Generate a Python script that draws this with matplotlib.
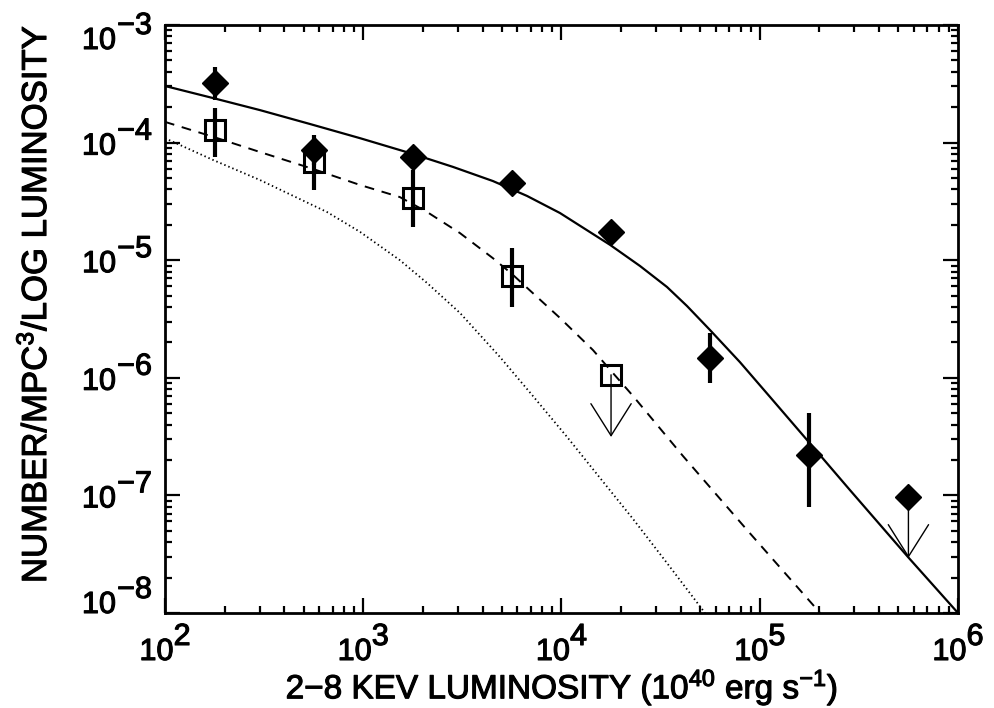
import math
import matplotlib
matplotlib.use("Agg")
import matplotlib.pyplot as plt
import matplotlib.patheffects as pe
from matplotlib.ticker import LogLocator, NullFormatter

plt.rcParams['font.family'] = ['Liberation Sans', 'DejaVu Sans']
plt.rcParams['mathtext.fontset'] = 'custom'
plt.rcParams['mathtext.rm'] = 'Liberation Sans'
plt.rcParams['mathtext.it'] = 'Liberation Sans'
plt.rcParams['mathtext.default'] = 'regular'

# luminosity bins (10^40 erg/s)
lum = [178, 562, 1778, 5623, 17783, 56234, 177828, 562341]

# filled diamonds: total
tot_n = [3.2e-4, 8.6e-5, 7.6e-5, 4.5e-5, 1.74e-5, 1.47e-6, 2.2e-7, 9.7e-8]
tot_hi = [4.4e-4, 1.16e-4, 8.0e-5, 4.7e-5, 1.8e-5, 2.4e-6, 5.0e-7, 9.7e-8]
tot_lo = [2.3e-4, 6.5e-5, 7.2e-5, 4.3e-5, 1.68e-5, 9.0e-7, 8.0e-8, 9.7e-8]
tot_limit = [False, False, False, False, False, False, False, True]
tot_limit_to = 2.94e-8

# open squares: subsample
sub_lum = [178, 562, 1778, 5623, 17783]
sub_n = [1.28e-4, 6.8e-5, 3.4e-5, 7.35e-6, 1.06e-6]
sub_hi = [1.97e-4, 8.6e-5, 5.85e-5, 1.27e-5, 1.06e-6]
sub_lo = [7.55e-5, 3.95e-5, 1.91e-5, 4.0e-6, 1.06e-6]
sub_limit = [False, False, False, False, True]
sub_limit_to = 3.14e-7

# model curves
solid_x = [100, 175, 301, 538, 964, 1783, 2838, 4510, 6699, 9820, 17580, 24890,
           34050, 42950, 56100, 79430, 112700, 175000, 285100, 559800, 1000000]
solid_y = [3.03e-4, 2.39e-4, 1.89e-4, 1.44e-4, 1.09e-4, 8.0e-5, 6.21e-5, 4.71e-5,
           3.52e-5, 2.52e-5, 1.35e-5, 8.93e-6, 5.92e-6, 4.08e-6, 2.55e-6, 1.36e-6,
           6.87e-7, 2.9e-7, 1.11e-7, 2.99e-8, 1.0e-8]

dash_x = [100, 175, 301, 558, 964, 1531, 2099, 3076, 4510, 5623, 9820, 14420,
          17990, 22960, 41020, 86300, 185800, 201400]
dash_y = [1.5e-4, 1.12e-4, 8.32e-5, 5.97e-5, 4.36e-5, 3.44e-5, 2.57e-5, 1.7e-5,
          1.04e-5, 7.64e-6, 3.23e-6, 1.72e-6, 1.12e-6, 7.0e-7, 2.16e-7, 5.08e-8,
          1.17e-8, 1.0e-8]

dot_x = [100, 175, 301, 656, 964, 1531, 2099, 3076, 4898, 7178, 10670, 15630,
         22960, 34050, 52970]
dot_y = [1.09e-4, 7.11e-5, 4.81e-5, 2.57e-5, 1.74e-5, 1.0e-5, 6.4e-6, 3.56e-6,
         1.5e-6, 7.0e-7, 3.14e-7, 1.41e-7, 6.3e-8, 2.66e-8, 1.0e-8]

x_ticks = [1e2, 1e3, 1e4, 1e5, 1e6]
y_ticks = [1e-8, 1e-7, 1e-6, 1e-5, 1e-4, 1e-3]

dpi = 100
fig = plt.figure(figsize=(995 / dpi, 708 / dpi), dpi=dpi)
ax = fig.add_axes([0.1658, 0.1342, 0.797, 0.8305])

ax.plot(solid_x, solid_y, color='black', lw=1.6)
ax.plot(dash_x, dash_y, color='black', lw=1.4, dashes=(5, 4))
ax.plot(dot_x, dot_y, color='black', lw=1.3, dashes=(0.8, 1.6))

# error bars (detections only)
for x, n, hi, lo, lim in zip(lum, tot_n, tot_hi, tot_lo, tot_limit):
    if not lim:
        ax.plot([x, x], [lo, hi], color='black', lw=3, solid_capstyle='butt')
for x, n, hi, lo, lim in zip(sub_lum, sub_n, sub_hi, sub_lo, sub_limit):
    if not lim:
        ax.plot([x, x], [lo, hi], color='black', lw=3, solid_capstyle='butt')

# upper limits
arrow = dict(arrowstyle='->,head_length=2.3,head_width=1.45', lw=1.0,
             color='black', shrinkA=0, shrinkB=0, mutation_scale=10)
for x, n, lim in zip(lum, tot_n, tot_limit):
    if lim:
        ax.annotate('', xy=(x, tot_limit_to), xytext=(x, n), arrowprops=arrow)
for x, n, lim in zip(sub_lum, sub_n, sub_limit):
    if lim:
        ax.annotate('', xy=(x, sub_limit_to), xytext=(x, n), arrowprops=arrow)

ax.plot(sub_lum, sub_n, linestyle='none', marker='s', ms=14, mfc='none',
        mec='black', mew=2.2)
ax.plot(lum, tot_n, linestyle='none', marker='D', ms=13.5, mfc='black',
        mec='black', zorder=5)

ax.set_xscale('log')
ax.set_yscale('log')
ax.set_xlim(1e2, 1e6)
ax.set_ylim(1e-8, 1e-3)

for axis in (ax.xaxis, ax.yaxis):
    axis.set_major_locator(LogLocator(base=10, numticks=10))
    axis.set_minor_locator(LogLocator(base=10, subs=range(2, 10), numticks=10))
    axis.set_major_formatter(NullFormatter())
    axis.set_minor_formatter(NullFormatter())

ax.tick_params(which='both', direction='in', top=True, right=True,
               width=1.6, colors='black')
ax.tick_params(which='major', length=11)
ax.tick_params(which='minor', length=5)
for s in ax.spines.values():
    s.set_linewidth(2)

# IDL-style tick labels: exponent drawn at full size
fs = 22
heavy = [pe.withStroke(linewidth=0.8, foreground='black')]
renderer = fig.canvas.get_renderer()


def text_width(s):
    t = fig.text(0, 0, s, fontsize=fs)
    w = t.get_window_extent(renderer).width
    t.remove()
    return w


w10 = text_width('10')
for v in y_ticks:
    e = int(round(math.log10(v)))
    sup = '\u2212%d' % (-e)
    base = -12
    if v == y_ticks[-1]:
        base = -24
    if v == y_ticks[0]:
        base = 0
    ax.annotate(sup, xy=(0, v), xycoords=('axes fraction', 'data'),
                xytext=(-13, base + 15), textcoords='offset pixels',
                ha='right', va='baseline', fontsize=fs, path_effects=heavy)
    ax.annotate('10', xy=(0, v), xycoords=('axes fraction', 'data'),
                xytext=(-13 - text_width(sup) - 1, base), textcoords='offset pixels',
                ha='right', va='baseline', fontsize=fs, path_effects=heavy)

for v in x_ticks:
    e = int(round(math.log10(v)))
    sup = '%d' % e
    total = w10 + text_width(sup)
    ax.annotate('10', xy=(v, 0), xycoords=('data', 'axes fraction'),
                xytext=(-total / 2, -47), textcoords='offset pixels',
                ha='left', va='baseline', fontsize=fs, path_effects=heavy)
    ax.annotate(sup, xy=(v, 0), xycoords=('data', 'axes fraction'),
                xytext=(-total / 2 + w10, -32), textcoords='offset pixels',
                ha='left', va='baseline', fontsize=fs, path_effects=heavy)

fig.text(0.036, 0.571, r'NUMBER/MPC$^3$/LOG LUMINOSITY', rotation=90,
         ha='center', va='center', fontsize=25, path_effects=heavy)
fig.text(0.565, 0.029, r'2$-$8 KEV LUMINOSITY (10$^{40}$ erg s$^{-1}$)',
         ha='center', va='center', fontsize=24, path_effects=heavy)

fig.savefig('out.png', dpi=dpi)
